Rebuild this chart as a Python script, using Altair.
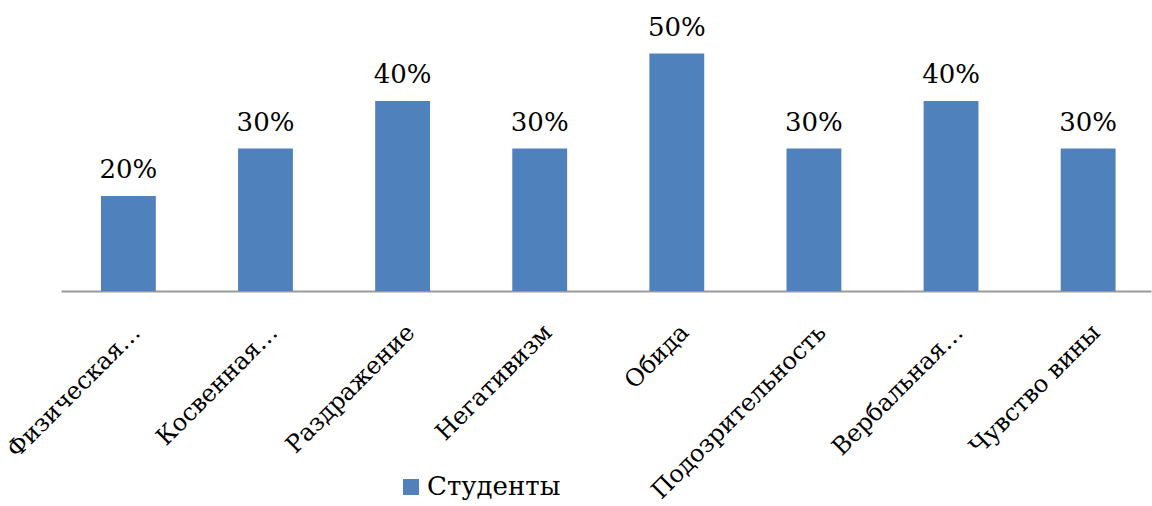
import altair as alt
import pandas as pd

# Aggression scale results, share of students per category
categories = ["Физическая…", "Косвенная…", "Раздражение", "Негативизм",
              "Обида", "Подозрительность", "Вербальная…", "Чувство вины"]
values = [0.20, 0.30, 0.40, 0.30, 0.50, 0.30, 0.40, 0.30]
series_name = "Студенты"

df = pd.DataFrame({"category": categories, "value": values, "series": series_name})

SERIF = "DejaVu Serif"
BLUE = "#4F81BD"

x = alt.X(
    "category:N",
    sort=categories,
    title=None,
    scale=alt.Scale(paddingInner=0.6, paddingOuter=0.275, align=0.53),
    axis=alt.Axis(
        labelAngle=-45,
        labelAlign="right",
        labelBaseline="top",
        labelFont=SERIF,
        labelFontSize=24,
        labelColor="#000000",
        labelPadding=29,
        labelLimit=400,
        labelOverlap=False,
        ticks=False,
        domainColor="#999999",
        domainWidth=2,
        grid=False,
    ),
)
y = alt.Y(
    "value:Q",
    scale=alt.Scale(domain=[0, 0.6]),
    axis=None,
)

bars = alt.Chart(df).mark_bar().encode(
    x=x,
    y=y,
    color=alt.Color(
        "series:N",
        scale=alt.Scale(range=[BLUE]),
        legend=alt.Legend(
            title=None,
            orient="none",
            legendX=337,
            legendY=468,
            symbolType="square",
            symbolSize=256,
            symbolStrokeWidth=0,
            labelFont=SERIF,
            labelFontSize=26,
            labelColor="#000000",
            labelOffset=3,
        ),
    ),
)

labels = alt.Chart(df).mark_text(
    font=SERIF, fontSize=26, color="#000000", baseline="alphabetic", dy=-18
).encode(
    x=alt.X("category:N", sort=categories),
    y="value:Q",
    text=alt.Text("value:Q", format=".0%"),
)

chart = (
    alt.layer(bars, labels)
    .properties(
        width=1090,
        height=285,
        autosize=alt.AutoSizeParams(type="none"),
        padding={"left": 61, "top": 6, "right": 1, "bottom": 215},
        background="#ffffff",
    )
    .configure_view(strokeWidth=0, stroke="transparent")
)

chart.save("out.html", embed_options={"renderer": "svg", "actions": False})
